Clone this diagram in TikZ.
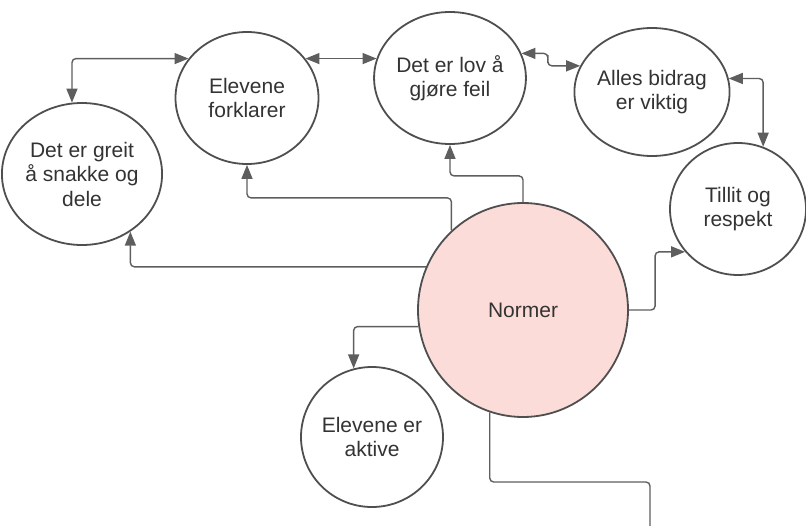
\documentclass[tikz,border=0pt]{standalone}
\usepackage{fontspec}
\setmainfont{Liberation Sans}
\usetikzlibrary{shapes.geometric,arrows.meta,calc}
\definecolor{edge}{HTML}{4F4F4F}
\definecolor{wire}{HTML}{5E5E5E}
\definecolor{ink}{HTML}{333333}
\definecolor{rose}{HTML}{FCDCD8}
\tikzset{
  tip/.tip={Triangle[length=14pt,width=11pt]},
  bubble/.style={ellipse, draw=edge, line width=1.8pt, fill=white, text=ink,
    align=center, inner sep=0pt, font=\fontsize{21}{24.5}\selectfont},
  link/.style={draw=wire, line width=1.4pt, rounded corners=4pt, -tip},
  twoway/.style={link, tip-tip},
  plainlink/.style={draw=wire, line width=1.4pt, rounded corners=4pt}
}
\begin{document}
\begin{tikzpicture}[x=1pt,y=-1pt]
\useasboundingbox (0,0) rectangle (806,525);

% bubbles
\node[bubble, minimum width=142pt, minimum height=142pt] (greit) at (82,174) {Det er greit\\å snakke og\\dele};
\node[bubble, minimum width=143pt, minimum height=132pt] (forkl) at (247,98) {Elevene\\forklarer};
\node[bubble, minimum width=144pt, minimum height=132pt] (lov) at (450,78) {Det er lov å\\gjøre feil};
\node[bubble, minimum width=140pt, minimum height=128pt] (alles) at (652,92) {Alles bidrag\\er viktig};
\node[bubble, minimum width=136pt, minimum height=132pt] (tillit) at (738,209) {Tillit og\\respekt};
\node[bubble, fill=rose, minimum width=210pt, minimum height=214pt] (normer) at (523,310) {Normer};
\node[bubble, minimum width=142pt, minimum height=140pt] (aktive) at (372,437) {Elevene er\\aktive};

\coordinate (outbend) at (650,482);
\coordinate (out) at (650,528);

% links between the top bubbles
\draw[twoway] (forkl.146) -| (greit.98);
\draw[twoway] (forkl.34) -- (forkl.34 -| lov.165);
\draw[twoway] (lov.19) -| ($(lov.19)!0.45!(alles.160)$) |- (alles.160);
\draw[twoway] (alles.10) -| (tillit.68);

% links leaving Normer
\draw[link] (normer.132) |- ([yshift=-33pt]forkl.south) -- (forkl.south);
\draw[link] (normer.north) |- ([yshift=-31pt]lov.south) -- (lov.south);
\draw[link] (normer.156) -| (greit.-50);
\draw[link] (normer.east) -| ([xshift=-30pt]tillit.219) -- (tillit.219);
\draw[link] (normer.189) -| (aktive.105);
\draw[plainlink] (normer.252) |- (outbend) -- (out);
\end{tikzpicture}
\end{document}
